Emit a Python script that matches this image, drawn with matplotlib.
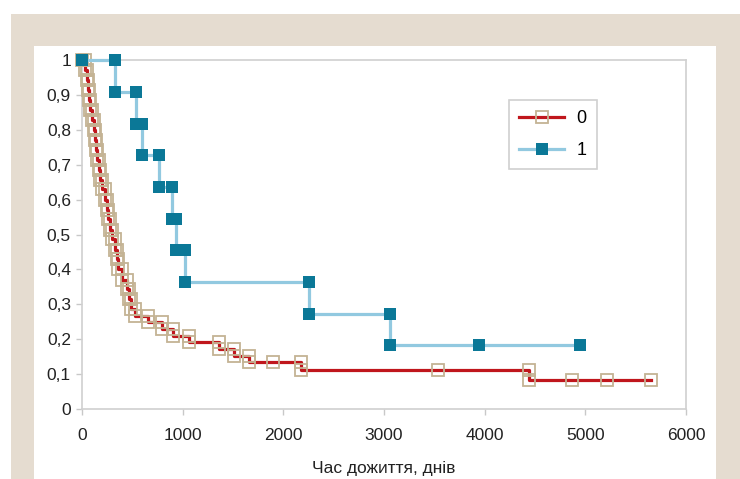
import numpy as np
import matplotlib.pyplot as plt
from matplotlib.patches import Rectangle

plt.rcParams['font.family'] = ['Liberation Sans', 'DejaVu Sans']

# Kaplan-Meier data, group 0 (time in days, survival after that time)
g0_time = [0, 30, 45, 55, 65, 78, 95, 115, 130, 140, 150, 165, 180, 200, 225, 245,
           262, 280, 300, 325, 345, 360, 400, 445, 465, 490, 526, 660, 790, 905,
           1065, 1360, 1510, 1660, 1900, 2175, 3535, 4440, 4866, 5213, 5650]
g0_surv = [1, 0.971, 0.943, 0.914, 0.886, 0.857, 0.829, 0.800, 0.771, 0.743, 0.714,
           0.686, 0.657, 0.629, 0.600, 0.571, 0.543, 0.514, 0.486, 0.457, 0.429,
           0.400, 0.371, 0.343, 0.314, 0.286, 0.267, 0.248, 0.229, 0.210, 0.191,
           0.172, 0.153, 0.134, 0.134, 0.112, 0.112, 0.084, 0.084, 0.084, 0.084]

# group 1
g1_time = [0, 328, 540, 599, 768, 894, 930, 1025, 2254, 3059, 3942, 4945]
g1_surv = [1, 0.909, 0.818, 0.727, 0.636, 0.545, 0.455, 0.364, 0.273, 0.182, 0.182, 0.182]

labels = ['0', '1']
x_ticks = [0, 1000, 2000, 3000, 4000, 5000, 6000]
y_ticks = [0, 0.1, 0.2, 0.3, 0.4, 0.5, 0.6, 0.7, 0.8, 0.9, 1]
y_tick_labels = ['0', '0,1', '0,2', '0,3', '0,4', '0,5', '0,6', '0,7', '0,8', '0,9', '1']
x_label = 'Час дожиття, днів'


def step_points(t, s):
    # Excel-style step series: a point on both corners of every drop
    xs, ys = [t[0]], [s[0]]
    for i in range(1, len(t)):
        if s[i] != s[i - 1]:
            xs.append(t[i])
            ys.append(s[i - 1])
        xs.append(t[i])
        ys.append(s[i])
    return np.array(xs), np.array(ys)


fig = plt.figure(figsize=(7.4, 4.79), dpi=100)
fig.patch.set_facecolor('white')

# beige frame and white panel
fig.patches.append(Rectangle((11 / 740, 0), 1, 1 - 14 / 479, transform=fig.transFigure,
                             facecolor='#e5dcd0', edgecolor='none', zorder=-2))
fig.patches.append(Rectangle((34 / 740, 0), (716 - 34) / 740, 1 - 46 / 479,
                             transform=fig.transFigure, facecolor='white',
                             edgecolor='none', zorder=-1))

ax = fig.add_axes([82 / 740, 70 / 479, 604 / 740, 349 / 479])
ax.set_facecolor('none')

x0, y0 = step_points(g0_time, g0_surv)
x1, y1 = step_points(g1_time, g1_surv)

ax.plot(x0, y0, color='#c0161c', linewidth=2.3, marker='s', markersize=8.5,
        markerfacecolor='none', markeredgecolor='#c4b394', markeredgewidth=1.3,
        label=labels[0], clip_on=False, zorder=3)
ax.plot(x1, y1, color='#92c9e0', linewidth=2.3, marker='s', markersize=8.5,
        markerfacecolor='#0b7897', markeredgecolor='#0b7897', markeredgewidth=0,
        label=labels[1], clip_on=False, zorder=4)

ax.set_xlim(0, 6000)
ax.set_ylim(0, 1)
ax.set_xticks(x_ticks)
ax.set_xticklabels([str(v) for v in x_ticks])
ax.set_yticks(y_ticks)
ax.set_yticklabels(y_tick_labels)

for side in ['left', 'bottom', 'top', 'right']:
    ax.spines[side].set_color('#d0d0d0')
    ax.spines[side].set_linewidth(1.2)

ax.tick_params(axis='both', length=4, width=1, color='#c8c8c8', labelsize=12.5,
               labelcolor='#222222')
ax.tick_params(axis='y', pad=4)
ax.tick_params(axis='x', pad=10)

ax.set_xlabel(x_label, fontsize=12.5, color='#222222', labelpad=13)

leg = ax.legend(loc='upper left', bbox_to_anchor=(0.707, 0.885), borderaxespad=0,
                fontsize=13, numpoints=1, handlelength=2.5, handletextpad=0.7,
                labelspacing=0.85, borderpad=0.55, fancybox=False, framealpha=1,
                edgecolor='#d0d0d0')
leg.get_frame().set_linewidth(1.2)

plt.savefig('out.png', dpi=100)
